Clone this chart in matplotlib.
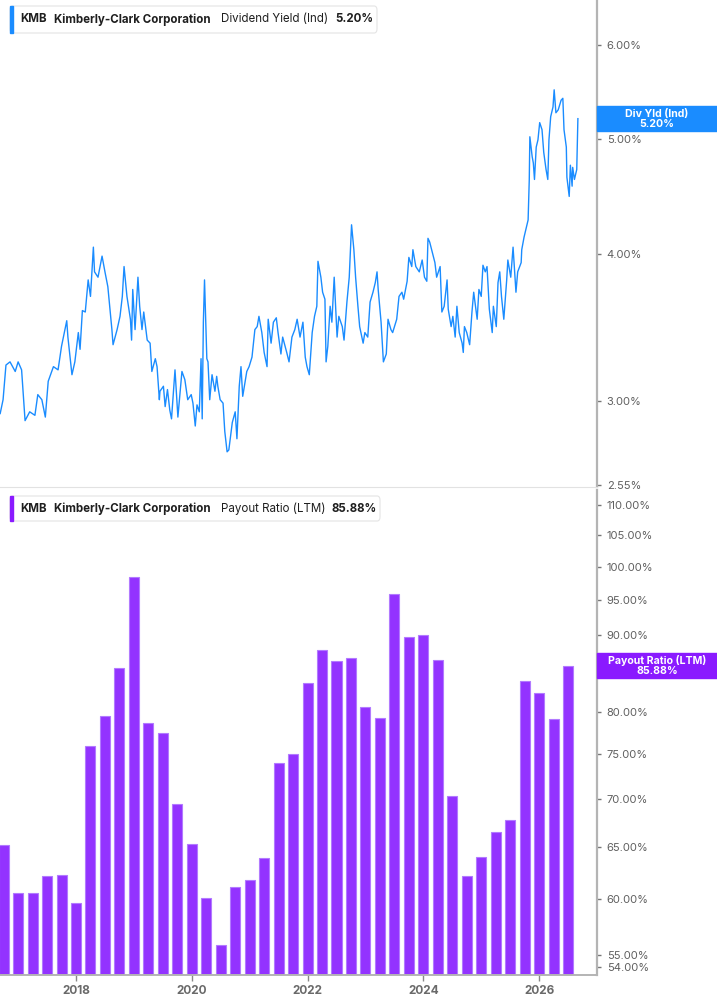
import matplotlib
matplotlib.use("Agg")
import matplotlib.pyplot as plt
from matplotlib.patches import Rectangle, FancyBboxPatch
from matplotlib.ticker import FixedLocator, NullLocator

# ---- data ----
yield_dates = [
    2016.69, 2016.74, 2016.79, 2016.86, 2016.95, 2017.00, 2017.06, 2017.12, 2017.20, 2017.29,
    2017.34, 2017.41, 2017.47, 2017.52, 2017.61, 2017.69, 2017.75, 2017.84, 2017.86, 2017.93,
    2017.98, 2018.04, 2018.07, 2018.11, 2018.16, 2018.21, 2018.25, 2018.30, 2018.32, 2018.38,
    2018.45, 2018.50, 2018.55, 2018.62, 2018.64, 2018.71, 2018.76, 2018.80, 2018.83, 2018.88,
    2018.94, 2018.96, 2018.98, 2019.02, 2019.07, 2019.10, 2019.14, 2019.17, 2019.23, 2019.28,
    2019.31, 2019.37, 2019.40, 2019.44, 2019.45, 2019.51, 2019.54, 2019.58, 2019.62, 2019.65,
    2019.71, 2019.76, 2019.83, 2019.88, 2019.93, 2019.99, 2020.02, 2020.06, 2020.09, 2020.13,
    2020.16, 2020.18, 2020.20, 2020.22, 2020.26, 2020.28, 2020.31, 2020.35, 2020.40, 2020.43,
    2020.45, 2020.49, 2020.54, 2020.57, 2020.61, 2020.64, 2020.70, 2020.75, 2020.78, 2020.82,
    2020.85, 2020.88, 2020.95, 2020.99, 2021.04, 2021.09, 2021.13, 2021.16, 2021.21, 2021.25,
    2021.30, 2021.32, 2021.37, 2021.41, 2021.46, 2021.49, 2021.54, 2021.57, 2021.64, 2021.68,
    2021.73, 2021.78, 2021.82, 2021.87, 2021.92, 2021.96, 2021.99, 2022.03, 2022.08, 2022.12,
    2022.16, 2022.18, 2022.23, 2022.26, 2022.30, 2022.32, 2022.35, 2022.39, 2022.42, 2022.46,
    2022.51, 2022.54, 2022.60, 2022.63, 2022.68, 2022.72, 2022.75, 2022.76, 2022.80, 2022.83,
    2022.87, 2022.90, 2022.96, 2022.99, 2023.04, 2023.08, 2023.13, 2023.17, 2023.20, 2023.22,
    2023.27, 2023.31, 2023.36, 2023.39, 2023.44, 2023.47, 2023.54, 2023.58, 2023.63, 2023.66,
    2023.72, 2023.75, 2023.80, 2023.82, 2023.87, 2023.93, 2023.98, 2024.02, 2024.06, 2024.08,
    2024.11, 2024.16, 2024.20, 2024.23, 2024.29, 2024.32, 2024.36, 2024.41, 2024.43, 2024.48,
    2024.51, 2024.55, 2024.58, 2024.62, 2024.67, 2024.69, 2024.71, 2024.75, 2024.80, 2024.84,
    2024.87, 2024.93, 2024.96, 2025.00, 2025.03, 2025.07, 2025.10, 2025.14, 2025.19, 2025.21,
    2025.26, 2025.29, 2025.32, 2025.35, 2025.39, 2025.44, 2025.46, 2025.51, 2025.55, 2025.60,
    2025.63, 2025.69, 2025.70, 2025.74, 2025.77, 2025.81, 2025.83, 2025.84, 2025.88, 2025.90,
    2025.92, 2025.95, 2025.98, 2026.01, 2026.05, 2026.08, 2026.12, 2026.15, 2026.17, 2026.20,
    2026.24, 2026.26, 2026.29, 2026.33, 2026.38, 2026.41, 2026.43, 2026.47, 2026.48, 2026.52,
    2026.54, 2026.57, 2026.58, 2026.61, 2026.65, 2026.67,
]
yield_values = [
    2.93, 3.01, 3.22, 3.24, 3.18, 3.24, 3.19, 2.89, 2.94, 2.92,
    3.04, 3.01, 2.91, 3.12, 3.21, 3.19, 3.34, 3.51, 3.40, 3.16,
    3.24, 3.43, 3.32, 3.58, 3.57, 3.80, 3.68, 4.05, 3.86, 3.82,
    3.98, 3.86, 3.75, 3.45, 3.35, 3.45, 3.54, 3.68, 3.90, 3.68,
    3.52, 3.38, 3.73, 3.45, 3.82, 3.61, 3.45, 3.57, 3.38, 3.36,
    3.18, 3.26, 3.21, 3.01, 3.06, 3.09, 2.97, 3.07, 2.95, 2.90,
    3.19, 2.91, 3.18, 3.13, 3.01, 3.04, 2.99, 2.86, 2.98, 2.94,
    3.26, 2.90, 3.50, 3.80, 3.26, 3.24, 3.01, 3.16, 3.06, 3.15,
    3.09, 3.01, 2.99, 2.83, 2.72, 2.73, 2.88, 2.94, 2.79, 3.09,
    3.21, 3.03, 3.18, 3.21, 3.27, 3.45, 3.47, 3.54, 3.43, 3.30,
    3.21, 3.52, 3.36, 3.50, 3.53, 3.43, 3.29, 3.40, 3.30, 3.24,
    3.40, 3.45, 3.52, 3.40, 3.50, 3.27, 3.21, 3.16, 3.43, 3.54,
    3.61, 3.94, 3.82, 3.71, 3.66, 3.24, 3.34, 3.61, 3.50, 3.82,
    3.40, 3.54, 3.47, 3.38, 3.64, 3.82, 4.11, 4.23, 4.03, 3.82,
    3.61, 3.47, 3.36, 3.43, 3.40, 3.64, 3.71, 3.78, 3.86, 3.73,
    3.50, 3.24, 3.29, 3.52, 3.45, 3.43, 3.52, 3.68, 3.71, 3.66,
    3.79, 3.97, 3.90, 4.03, 3.90, 3.86, 3.95, 3.82, 3.79, 4.12,
    4.09, 4.00, 3.93, 3.82, 3.90, 3.57, 3.61, 3.80, 3.59, 3.47,
    3.54, 3.40, 3.61, 3.43, 3.36, 3.30, 3.47, 3.43, 3.35, 3.57,
    3.71, 3.52, 3.73, 3.68, 3.91, 3.86, 3.90, 3.59, 3.43, 3.61,
    3.47, 3.78, 3.86, 3.68, 3.52, 3.80, 3.95, 3.82, 4.05, 3.71,
    3.86, 3.93, 4.03, 4.13, 4.19, 4.27, 4.62, 5.02, 4.83, 4.77,
    4.62, 4.92, 4.99, 5.16, 5.09, 4.87, 4.71, 4.62, 4.99, 5.22,
    5.32, 5.50, 5.26, 5.29, 5.39, 5.41, 5.09, 4.92, 4.64, 4.47,
    4.75, 4.56, 4.73, 4.62, 4.71, 5.20,
]

payout_dates = [
    2016.75, 2017.00, 2017.25, 2017.50, 2017.75, 2018.00, 2018.25, 2018.50, 2018.75, 2019.00,
    2019.25, 2019.50, 2019.75, 2020.00, 2020.25, 2020.50, 2020.75, 2021.00, 2021.25, 2021.50,
    2021.75, 2022.00, 2022.25, 2022.50, 2022.75, 2023.00, 2023.25, 2023.50, 2023.75, 2024.00,
    2024.25, 2024.50, 2024.75, 2025.00, 2025.25, 2025.50, 2025.75, 2026.00, 2026.25, 2026.50,
]
payout_values = [
    65.2, 60.5, 60.5, 62.1, 62.2, 59.6, 75.9, 79.5, 85.6, 98.5,
    78.6, 77.4, 69.4, 65.3, 60.1, 55.9, 61.1, 61.7, 63.9, 73.9,
    75.0, 83.6, 88.0, 86.5, 86.9, 80.6, 79.2, 95.9, 89.8, 90.1,
    86.6, 70.3, 62.1, 64.0, 66.5, 67.7, 83.9, 82.3, 79.1, 85.88,
]

yield_ticks = [2.55, 3.0, 4.0, 5.0, 6.0]
payout_ticks = [54, 55, 60, 65, 70, 75, 80, 85, 90, 95, 100, 105, 110]
year_ticks = [2018, 2020, 2022, 2024, 2026]

BLUE = "#1a8cff"
PURPLE = "#9333ff"
TAG_PURPLE = "#8a1aff"
SPINE = "#b4b4b4"
TICKTXT = "#5f5f5f"

plt.rcParams['font.family'] = ['Inter', 'DejaVu Sans']

W, H = 717, 1005
fig = plt.figure(figsize=(W / 100, H / 100), dpi=100)


def fx(px):
    return px / W


def fy(py):
    return 1 - py / H


ax1 = fig.add_axes([0, fy(487), fx(597), 487 / H])
ax2 = fig.add_axes([0, fy(975), fx(597), (975 - 490) / H])
xlim = (2016.687, 2027.0)

# ---- top: dividend yield ----
ax1.plot(yield_dates, yield_values, color=BLUE, lw=1.0)
ax1.set_yscale("log")
ax1.set_ylim(2.54, 6.55)
ax1.set_xlim(*xlim)

# ---- bottom: payout ratio ----
ax2.bar(payout_dates, [v - 40 for v in payout_values], bottom=40, width=0.173,
        color=PURPLE, edgecolor="#b27aff", linewidth=0.8)
ax2.set_yscale("log")
ax2.set_ylim(53.34, 112.6)
ax2.set_xlim(*xlim)

for ax, ticks in ((ax1, yield_ticks), (ax2, payout_ticks)):
    ax.yaxis.tick_right()
    ax.yaxis.set_major_locator(FixedLocator(ticks))
    ax.yaxis.set_minor_locator(NullLocator())
    ax.set_yticklabels([f"{t:.2f}%" for t in ticks])
    ax.tick_params(axis="y", length=3, width=1, color="#777777", pad=4,
                   labelsize=8, labelcolor=TICKTXT)
    for s in ("top", "left"):
        ax.spines[s].set_visible(False)
    ax.spines["right"].set_color(SPINE)
    ax.spines["right"].set_linewidth(1.6)
    ax.set_facecolor("none")

ax1.spines["bottom"].set_color("#e2e2e2")
ax1.set_xticks([])
ax2.spines["bottom"].set_color(SPINE)
ax2.spines["bottom"].set_linewidth(1.4)
ax2.set_xticks(year_ticks)
ax2.set_xticklabels([str(y) for y in year_ticks])
ax2.xaxis.set_minor_locator(NullLocator())
ax2.tick_params(axis="x", length=4, width=1, color="#888888", pad=3.5,
                labelsize=8.5, labelcolor="#6a6a6a")
for lbl in ax2.get_xticklabels():
    lbl.set_fontweight("bold")


# ---- legends (top-left boxes) ----
def legend(top_px, bottom_px, right_px, color, pieces):
    box = FancyBboxPatch((fx(10), fy(bottom_px)), fx(right_px - 10), (bottom_px - top_px) / H,
                         boxstyle="round,pad=0,rounding_size=0.004",
                         transform=fig.transFigure, facecolor="white",
                         edgecolor="#e4e4e4", linewidth=0.8, zorder=3)
    fig.patches.append(box)
    fig.patches.append(Rectangle((fx(10), fy(bottom_px)), fx(3), (bottom_px - top_px) / H,
                                 transform=fig.transFigure, color=color, zorder=4))
    ymid = fy((top_px + bottom_px) / 2)
    for xpx, txt, weight in pieces:
        fig.text(fx(xpx), ymid, txt, fontsize=8.3, fontweight=weight,
                 color="#1f1f1f", va="center", ha="left", zorder=5)


legend(6, 33, 377, BLUE, [(20, "KMB", "bold"), (54, "Kimberly-Clark Corporation", "bold"),
                          (221, "Dividend Yield (Ind)", "normal"), (335, "5.20%", "bold")])
legend(496, 521, 380, TAG_PURPLE, [(20, "KMB", "bold"), (54, "Kimberly-Clark Corporation", "bold"),
                                   (221, "Payout Ratio (LTM)", "normal"), (331, "85.88%", "bold")])


# ---- right-side value labels ----
def value_tag(ax, value, color, line1, line2):
    ypix = ax.transData.transform((2020, value))[1]
    yc = ypix / H
    h = 25 / H
    fig.patches.append(Rectangle((fx(597), yc - h / 2), 1 - fx(597), h,
                                 transform=fig.transFigure, color=color, zorder=6))
    fig.text(fx(657), yc, f"{line1}\n{line2}", fontsize=7.6, fontweight="bold",
             color="white", ha="center", va="center", linespacing=1.0, zorder=7)


value_tag(ax1, yield_values[-1], BLUE, "Div Yld (Ind)", "5.20%")
value_tag(ax2, payout_values[-1], TAG_PURPLE, "Payout Ratio (LTM)", "85.88%")

fig.savefig("out.png", dpi=100, facecolor="white")
